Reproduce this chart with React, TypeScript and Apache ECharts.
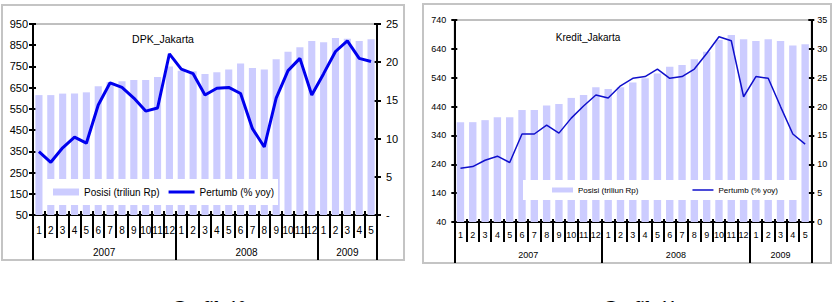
import { useEffect, useRef } from 'react';
import * as echarts from 'echarts';

// Period axis: months grouped by year
const years = ['2007', '2008', '2009'];
const monthsPerYear = [12, 12, 5];

// DPK Jakarta: deposits (trillion Rp) and yoy growth (%)
const dpkPosisi = [615, 615, 622, 622, 628, 657, 675, 680, 686, 686, 700, 750, 730, 727, 714, 723, 736, 764, 743, 736, 784, 819, 841, 870, 864, 884, 881, 870, 878];
const dpkPertumb = [8.3, 6.9, 8.8, 10.2, 9.4, 14.4, 17.3, 16.7, 15.3, 13.6, 14.0, 21.1, 19.1, 18.5, 15.7, 16.6, 16.7, 15.9, 11.3, 8.9, 15.3, 18.9, 20.5, 15.7, 18.5, 21.4, 22.8, 20.5, 20.1];

// Kredit Jakarta: loans (trillion Rp) and yoy growth (%)
const kreditPosisi = [386, 386, 393, 403, 403, 428, 428, 444, 449, 470, 480, 507, 501, 507, 523, 538, 555, 578, 584, 604, 630, 671, 688, 673, 667, 673, 667, 652, 656];
const kreditPertumb = [9.3, 9.6, 10.7, 11.4, 10.3, 15.25, 15.25, 16.8, 15.4, 18.0, 20.1, 22.0, 21.5, 23.6, 24.9, 25.2, 26.5, 24.9, 25.2, 26.5, 29.2, 32.1, 31.4, 21.7, 25.2, 24.9, 20.0, 15.25, 13.5];

// Axis ranges: [min, max, interval]
const dpkLeftRange = [50, 950, 100];
const dpkRightRange = [0, 25, 5];
const kreditLeftRange = [40, 740, 100];
const kreditRightRange = [0, 35, 5];

const seriesNames = ['Posisi (triliun Rp)', 'Pertumb (% yoy)'];

const FONT = 'Liberation Sans';
const BAR_COLOR = '#ccccff';

const months = monthsPerYear.flatMap((n) => Array.from({ length: n }, (_, i) => String(i + 1)));
const yearEdges = monthsPerYear.reduce((acc, n) => [...acc, acc[acc.length - 1] + n], [0] as number[]);
const yearCenters = years.map((_, i) => (yearEdges[i] + yearEdges[i + 1]) / 2);

// A plain line as legend icon: a stroke of height `t` centred in a w x h box
function lineIcon(w: number, h: number, t: number) {
  const a = (h - t) / 2;
  const b = a + t;
  return `path://M0,0H${w}V0.01H0Z M0,${a}H${w}V${b}H0Z M0,${h - 0.01}H${w}V${h}H0Z`;
}

interface PanelCfg {
  frame: [number, number, number, number];
  grid: { left: number; top: number; width: number; height: number };
  title: string;
  titlePos: [number, number];
  titleSize: number;
  caption: string;
  captionX: number;
  bars: number[];
  line: number[];
  leftRange: number[];
  rightRange: number[];
  rightFormatter: (v: number) => string;
  yFont: number;
  leftMargin: number;
  rightMargin: number;
  yTickOut: number;
  yTickIn: number;
  monthFont: number;
  monthMargin: number;
  monthTick: number;
  monthTickIn: number;
  yearFont: number;
  yearMargin: number;
  yearTick: number;
  lineColor: string;
  lineWidth: number;
  legend: {
    left: number;
    top: number;
    padding: number[];
    itemGap: number;
    itemWidth: number;
    itemHeight: number;
    fontSize: number;
  };
}

const black = { color: '#000000', width: 2 };

function buildOption(c: PanelCfg) {
  const yAxisBase = (range: number[], position: 'left' | 'right') => ({
    type: 'value',
    position,
    min: range[0],
    max: range[1],
    interval: range[2],
    splitLine: { show: false },
  });
  return {
    animation: false,
    backgroundColor: '#ffffff',
    textStyle: { fontFamily: FONT, color: '#000000' },
    grid: {
      ...c.grid,
      show: true,
      borderColor: '#808080',
      borderWidth: 1,
      backgroundColor: 'transparent',
    },
    xAxis: [
      {
        type: 'category',
        data: months,
        position: 'bottom',
        boundaryGap: true,
        axisLine: { show: true, onZero: false, lineStyle: black },
        axisTick: { show: true, interval: 0, length: c.monthTick, lineStyle: black },
        axisLabel: { interval: 0, margin: c.monthMargin, fontSize: c.monthFont, color: '#000000', fontFamily: FONT },
        splitLine: { show: false },
      },
      {
        type: 'category',
        data: months,
        position: 'bottom',
        boundaryGap: true,
        axisLine: { show: false, onZero: false },
        axisTick: { show: true, inside: true, interval: 0, length: c.monthTickIn, lineStyle: black },
        axisLabel: { show: false },
        splitLine: { show: false },
      },
      {
        type: 'value',
        position: 'bottom',
        min: 0,
        max: months.length,
        axisLine: { show: false, onZero: false },
        axisTick: { show: true, customValues: yearEdges, length: c.yearTick, lineStyle: black },
        axisLabel: {
          customValues: yearCenters,
          formatter: (v: number) => years[yearCenters.indexOf(v)] ?? '',
          margin: c.yearMargin,
          fontSize: c.yearFont,
          color: '#000000',
          fontFamily: FONT,
        },
        splitLine: { show: false },
      },
    ],
    yAxis: [
      {
        ...yAxisBase(c.leftRange, 'left'),
        axisLine: { show: true, onZero: false, lineStyle: black },
        axisTick: { show: true, length: c.yTickOut, lineStyle: black },
        axisLabel: { margin: c.leftMargin, fontSize: c.yFont, color: '#000000', fontFamily: FONT },
      },
      {
        ...yAxisBase(c.rightRange, 'right'),
        axisLine: { show: true, onZero: false, lineStyle: black },
        axisTick: { show: true, length: c.yTickOut, lineStyle: black },
        axisLabel: {
          margin: c.rightMargin,
          fontSize: c.yFont,
          color: '#000000',
          fontFamily: FONT,
          formatter: c.rightFormatter,
        },
      },
      {
        ...yAxisBase(c.leftRange, 'left'),
        axisLine: { show: false, onZero: false },
        axisTick: { show: true, inside: true, length: c.yTickIn, lineStyle: black },
        axisLabel: { show: false },
      },
      {
        ...yAxisBase(c.rightRange, 'right'),
        axisLine: { show: false, onZero: false },
        axisTick: { show: true, inside: true, length: c.yTickIn, lineStyle: black },
        axisLabel: { show: false },
      },
    ],
    legend: {
      left: c.legend.left,
      top: c.legend.top,
      orient: 'horizontal',
      padding: c.legend.padding,
      itemGap: c.legend.itemGap,
      itemWidth: c.legend.itemWidth,
      itemHeight: c.legend.itemHeight,
      backgroundColor: '#ffffff',
      selectedMode: false,
      textStyle: { fontSize: c.legend.fontSize, color: '#000000', fontFamily: FONT },
      data: [
        { name: seriesNames[0], icon: 'rect' },
        {
          name: seriesNames[1],
          icon: lineIcon(c.legend.itemWidth, c.legend.itemHeight, c.lineWidth),
          itemStyle: { color: c.lineColor, borderWidth: 0 },
        },
      ],
    },
    series: [
      {
        type: 'bar',
        name: seriesNames[0],
        xAxisIndex: 0,
        yAxisIndex: 0,
        data: c.bars,
        barCategoryGap: '40%',
        itemStyle: { color: BAR_COLOR },
      },
      {
        type: 'line',
        name: seriesNames[1],
        xAxisIndex: 0,
        yAxisIndex: 1,
        data: c.line,
        symbol: 'none',
        lineStyle: { color: c.lineColor, width: c.lineWidth },
        itemStyle: { color: c.lineColor },
        z: 5,
      },
    ],
    graphic: [
      {
        type: 'rect',
        silent: true,
        shape: { x: c.frame[0], y: c.frame[1], width: c.frame[2], height: c.frame[3] },
        style: { fill: 'none', stroke: '#c4c4c4', lineWidth: 2 },
      },
      {
        type: 'text',
        silent: true,
        x: c.titlePos[0],
        y: c.titlePos[1],
        style: {
          text: c.title,
          fontSize: c.titleSize,
          fontFamily: FONT,
          fill: '#000000',
          align: 'center',
          verticalAlign: 'middle',
          textAlign: 'center',
          textVerticalAlign: 'middle',
        },
      },
      {
        type: 'text',
        silent: true,
        x: c.captionX,
        y: 308,
        style: {
          text: c.caption,
          fontSize: 18,
          fontWeight: 'bold',
          fontFamily: 'Liberation Serif',
          fill: '#000000',
          align: 'left',
          verticalAlign: 'middle',
          textAlign: 'left',
          textVerticalAlign: 'middle',
        },
      },
    ],
  };
}

const dpkCfg: PanelCfg = {
  frame: [2, 5, 402, 255],
  grid: { left: 33, top: 24, width: 344, height: 191 },
  title: 'DPK_Jakarta',
  titlePos: [163, 39],
  titleSize: 10.5,
  caption: 'Grafik 10',
  captionX: 172,
  bars: dpkPosisi,
  line: dpkPertumb,
  leftRange: dpkLeftRange,
  rightRange: dpkRightRange,
  rightFormatter: (v: number) => (v === 0 ? '-' : String(v)),
  yFont: 11,
  leftMargin: 5,
  rightMargin: 9,
  yTickOut: 4,
  yTickIn: 3,
  monthFont: 10,
  monthMargin: 10,
  monthTick: 23,
  monthTickIn: 4,
  yearFont: 10,
  yearMargin: 32,
  yearTick: 45,
  lineColor: '#0000ee',
  lineWidth: 3,
  legend: { left: 46, top: 179, padding: [8, 4, 8, 7], itemGap: 9, itemWidth: 26, itemHeight: 7, fontSize: 10 },
};

const kreditCfg: PanelCfg = {
  frame: [8, 4, 408, 259],
  grid: { left: 39.3, top: 20, width: 357, height: 202 },
  title: 'Kredit_Jakarta',
  titlePos: [173, 37.5],
  titleSize: 10,
  caption: 'Grafik 11',
  captionX: 188,
  bars: kreditPosisi,
  line: kreditPertumb,
  leftRange: kreditLeftRange,
  rightRange: kreditRightRange,
  rightFormatter: (v: number) => String(v),
  yFont: 9,
  leftMargin: 8,
  rightMargin: 6,
  yTickOut: 3,
  yTickIn: 3,
  monthFont: 9,
  monthMargin: 8,
  monthTick: 20,
  monthTickIn: 3,
  yearFont: 9,
  yearMargin: 28,
  yearTick: 41,
  lineColor: '#1010cc',
  lineWidth: 1.5,
  legend: { left: 108, top: 180, padding: [6, 19, 6, 29], itemGap: 54, itemWidth: 21, itemHeight: 5, fontSize: 8 },
};

function Panel({ cfg, left, width }: { cfg: PanelCfg; left: number; width: number }) {
  const ref = useRef<HTMLDivElement>(null);
  useEffect(() => {
    if (!ref.current) return;
    const chart = echarts.init(ref.current, undefined, { renderer: 'svg' });
    chart.setOption(buildOption(cfg) as any);
    return () => chart.dispose();
  }, [cfg]);
  return (
    <div
      ref={ref}
      style={{ position: 'absolute', left, top: 0, width, height: 302, overflow: 'hidden' }}
    />
  );
}

export default function App() {
  return (
    <div style={{ position: 'fixed', left: 0, top: 0, width: 834, height: 302, background: '#ffffff' }}>
      <Panel cfg={dpkCfg} left={0} width={415} />
      <Panel cfg={kreditCfg} left={415} width={419} />
    </div>
  );
}
